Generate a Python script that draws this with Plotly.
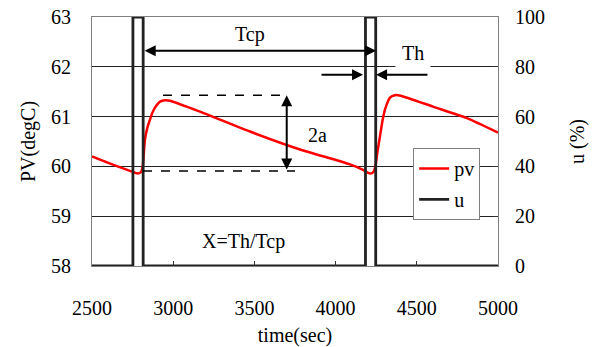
import plotly.graph_objects as go

# PV (degC) samples
time_s = [2500, 2600, 2700, 2752, 2777, 2800, 2812, 2826, 2841, 2857, 2872, 2888, 2919, 2950, 2980,
          3165, 3473, 3781, 4089, 4169, 4200, 4220, 4235, 4245, 4258, 4273, 4289, 4304, 4335, 4365,
          4400, 4600, 4808, 5000]
pv = [60.20, 60.07, 59.95, 59.89, 59.86, 59.88, 60.00, 60.54, 60.78, 60.94, 61.08, 61.18, 61.30, 61.33, 61.32,
      61.10, 60.70, 60.34, 60.04, 59.93, 59.87, 59.86, 59.90, 60.00, 60.30, 60.60, 60.92, 61.14, 61.38, 61.43,
      61.42, 61.20, 60.97, 60.68]

# controller output u (%) : on-pulses (start, end) in seconds
pulse_on = [2752, 4184]
pulse_off = [2815, 4247]
u_low, u_high = 0, 100
t_start, t_end = 2500, 5000

u_t, u_v = [t_start], [u_low]
for a, b in zip(pulse_on, pulse_off):
    u_t += [a, a, b, b]
    u_v += [u_low, u_high, u_high, u_low]
u_t.append(t_end)
u_v.append(u_low)

# annotation values
tcp_start, tcp_end, tcp_level = 2815, 4249, 62.32
th_left_tail, th_right_tail, th_level = 3904, 4575, 61.84
amp_t, amp_low, amp_high = 3699, 59.91, 61.43
dash_top = (2937, 3706)
dash_bot = (2814, 3750)

FONT = "Liberation Serif, Times New Roman, serif"
FS = 20
F = dict(family=FONT, size=FS, color="black")

fig = go.Figure()
fig.add_trace(go.Scatter(x=time_s, y=pv, mode="lines", name="pv",
                         line=dict(color="#ff0000", width=2.5, shape="spline", smoothing=0.6),
                         legendgroup="a"))
fig.add_trace(go.Scatter(x=u_t, y=u_v, mode="lines", name="u", yaxis="y2",
                         line=dict(color="#222222", width=2.8), legendgroup="b"))

shapes = [
    dict(type="line", xref="x", yref="y", x0=dash_top[0], x1=dash_top[1], y0=amp_high, y1=amp_high,
         line=dict(color="black", width=1.5, dash="dash")),
    dict(type="line", xref="x", yref="y", x0=dash_bot[0], x1=dash_bot[1], y0=amp_low, y1=amp_low,
         line=dict(color="black", width=1.5, dash="dash")),
]

arrow = dict(text="", showarrow=True, axref="x", ayref="y", xref="x", yref="y",
             arrowhead=2, arrowsize=1.1, arrowwidth=2, arrowcolor="black", standoff=0, startstandoff=0)
annotations = [
    dict(arrow, x=tcp_end, y=tcp_level, ax=tcp_start, ay=tcp_level, arrowside="end+start"),
    dict(arrow, x=pulse_on[1] - 15, y=th_level, ax=th_left_tail, ay=th_level),
    dict(arrow, x=pulse_off[1] + 2, y=th_level, ax=th_right_tail, ay=th_level),
    dict(arrow, x=amp_t, y=amp_high, ax=amp_t, ay=amp_low, arrowside="end+start"),
    dict(text="Tcp", x=3473, y=62.64, xref="x", yref="y", showarrow=False, font=F),
    dict(text="Th", x=4477, y=62.28, xref="x", yref="y", showarrow=False, bgcolor="white", borderpad=6, font=F),
    dict(text="2a", x=3886, y=60.64, xref="x", yref="y", showarrow=False, font=F),
    dict(text="X=Th/Tcp", x=3430, y=58.5, xref="x", yref="y", showarrow=False, font=F),
]

fig.update_layout(
    width=599, height=347,
    margin=dict(l=92, r=101, t=17, b=81),
    paper_bgcolor="white", plot_bgcolor="white",
    font=F,
    showlegend=True,
    legend=dict(x=0.791, y=0.474, xanchor="left", yanchor="top", bgcolor="white",
                bordercolor="#808080", borderwidth=1, font=F, tracegroupgap=2),
    xaxis=dict(range=[t_start, t_end], dtick=500, ticks="inside", ticklen=5, tickcolor="#333",
               showgrid=False, showline=True, mirror=True, linecolor="#808080", linewidth=1,
               zeroline=False, ticklabelstandoff=24, tickfont=F, automargin=False,
               title=dict(text="time(sec)", standoff=12, font=F)),
    yaxis=dict(range=[58, 63], dtick=1, ticks="", showgrid=True, gridcolor="#222", gridwidth=1,
               showline=True, mirror=True, linecolor="#808080", linewidth=1, zeroline=False,
               ticklabelstandoff=16, tickfont=F, automargin=False,
               title=dict(text="PV(degC)", standoff=10, font=F)),
    yaxis2=dict(range=[0, 100], dtick=20, overlaying="y", side="right", ticks="inside", ticklen=5,
                tickcolor="#333", showgrid=False, zeroline=False, ticklabelstandoff=16,
                tickfont=F, automargin=False,
                title=dict(text="u (%)", standoff=25, font=F)),
    shapes=shapes,
    annotations=annotations,
)

fig.write_html("out.html")
